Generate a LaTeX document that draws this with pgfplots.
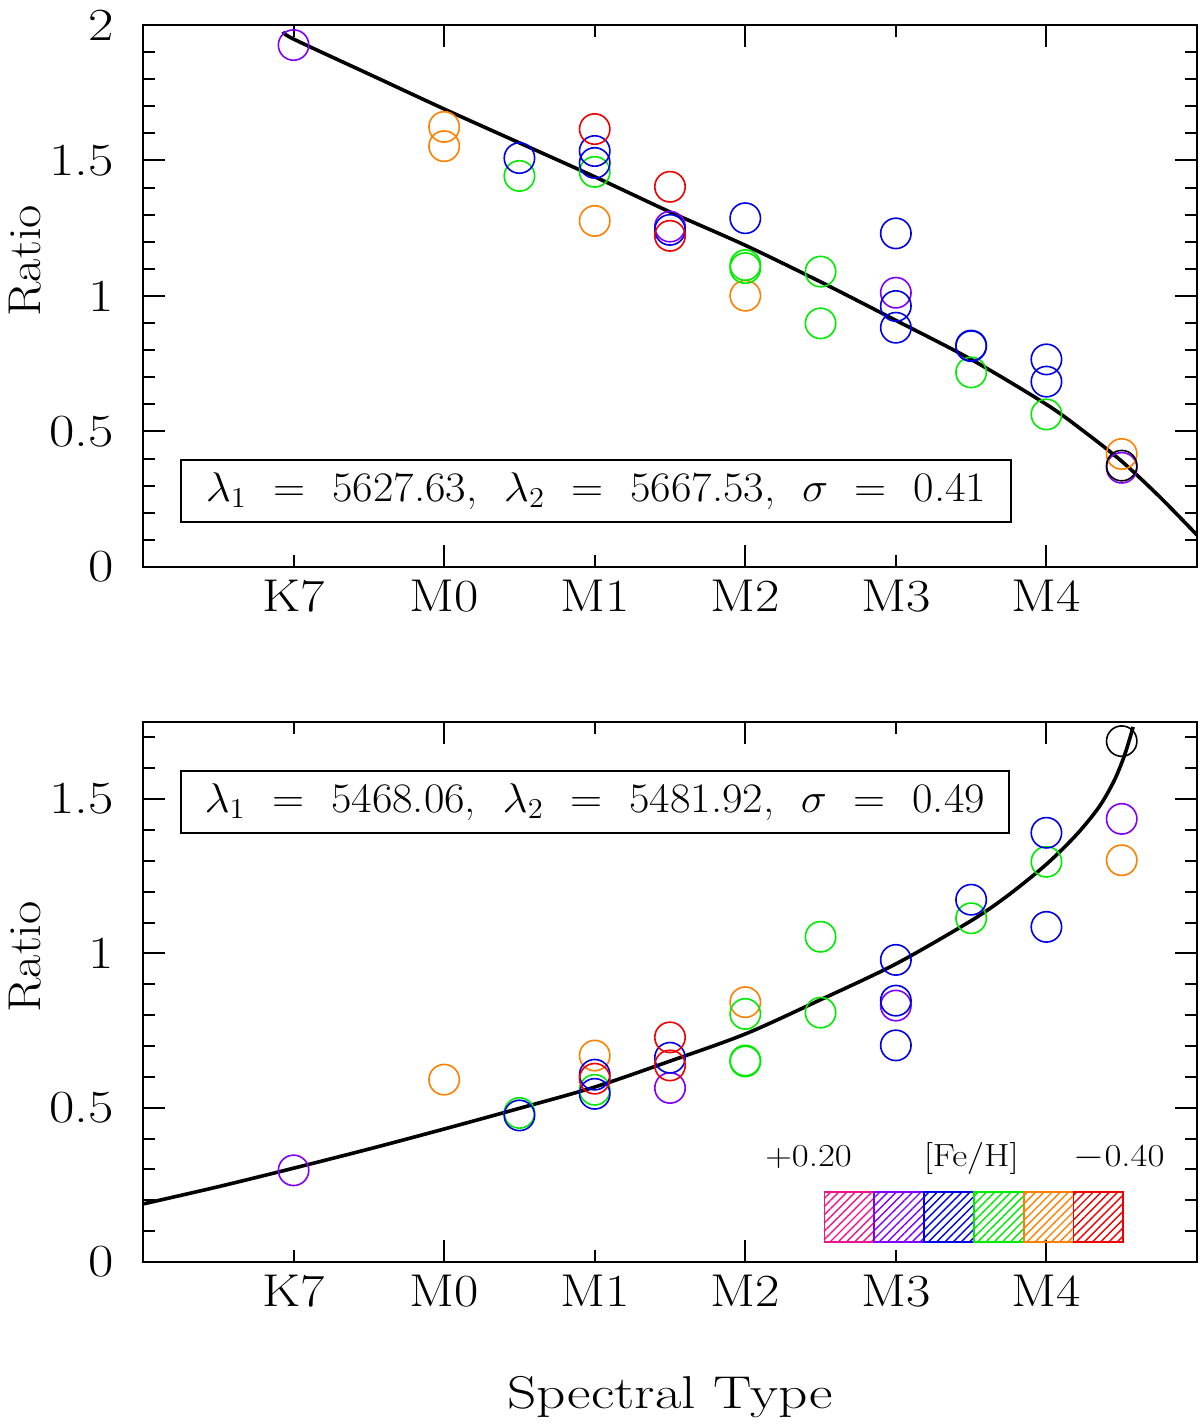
\documentclass[border=0pt]{standalone}
\usepackage{graphicx}
\usepackage{pgfplots}
\pgfplotsset{compat=1.18}
\usetikzlibrary{patterns.meta}
\definecolor{cmag}{RGB}{240,20,140}
\definecolor{cpur}{RGB}{128,0,255}
\definecolor{cblu}{RGB}{0,0,230}
\definecolor{cgrn}{RGB}{0,235,0}
\definecolor{cora}{RGB}{255,128,0}
\definecolor{cred}{RGB}{240,0,0}
\newcommand{\hs}[1]{\scalebox{1.15}[1]{#1}}
\pgfplotsset{myax/.style={
  scale only axis, width=527pt, xmin=-2, xmax=5, ymin=0,
  axis line style={line width=1pt},
  tick style={black, line width=1pt},
  major tick length=11pt, minor tick length=6pt,
  tick align=inside,
  xtick={-2,0,2,4}, minor xtick={-1,1,3,5}, xticklabels={},
  extra x ticks={-1,0,1,2,3,4},
  extra x tick labels={\hs{K7},\hs{M0},\hs{M1},\hs{M2},\hs{M3},\hs{M4}},
  extra x tick style={major tick length=0pt},
  tick label style={font=\fontsize{23}{27}\selectfont},
  /pgf/number format/assume math mode=true,
  yticklabel={\scalebox{1.2}[1]{\pgfmathprintnumber{\tick}}},
  yticklabel style={xshift=-11pt},
  xticklabel style={yshift=-3pt},
  ylabel={\scalebox{1.1}[1]{Ratio}},
  label style={font=\fontsize{23}{27}\selectfont},
  ylabel style={at={(axis description cs:0,0.565)}, anchor=center, yshift=59pt},
  mark size=7.6pt,
}}
\newcommand{\gsp}{\hspace{0.6em}}
\begin{document}
\begin{tikzpicture}
\useasboundingbox (0,0) rectangle (600pt,712pt);
% ---------------- top panel
\begin{axis}[myax, at={(71.5pt,428.5pt)}, anchor=south west,
  height=271pt, ymax=2,
  ytick={0,0.5,1,1.5,2},
  minor ytick={0.1,0.2,0.3,0.4,0.6,0.7,0.8,0.9,1.1,1.2,1.3,1.4,1.6,1.7,1.8,1.9}]
\addplot[only marks, mark=o, color=cpur, line width=0.8pt] coordinates {
(-1,1.926) (1.5,1.256) (3,1.012) (4.5,0.366)};
\addplot[only marks, mark=o, color=cora, line width=0.8pt] coordinates {
(0,1.624) (0,1.553) (1,1.277) (2,1.001) (4.5,0.417)};
\addplot[only marks, mark=o, color=cgrn, line width=0.8pt] coordinates {
(0.5,1.443) (1,1.458) (2,1.114) (2,1.103) (2.5,1.090) (2.5,0.899) (3.5,0.718) (4,0.563)};
\addplot[only marks, mark=o, color=cblu, line width=0.8pt] coordinates {
(0.5,1.509) (1,1.535) (1,1.491) (1.5,1.244) (2,1.287) (3,1.231) (3,0.963) (3,0.883)
(3.5,0.817) (3.5,0.815) (4,0.766) (4,0.684)};
\addplot[only marks, mark=o, color=cred, line width=0.8pt] coordinates {
(1,1.616) (1.5,1.403) (1.5,1.222)};
\addplot[only marks, mark=o, color=black, line width=0.8pt] coordinates {
(4.5,0.374)};
\addplot[smooth, black, line width=1.8pt, no markers] coordinates {
(-1.07,1.975) (-1,1.948) (-0.5,1.819) (0,1.69) (0.5,1.565) (1,1.44) (1.5,1.31)
(2,1.187) (2.5,1.052) (3,0.91) (3.5,0.766) (4,0.60) (4.25,0.50) (4.5,0.39)
(4.75,0.26) (5,0.118)};
\node[draw, line width=1pt, minimum width=415pt, minimum height=31pt, inner sep=0pt,
  font=\fontsize{21}{25}\selectfont] at (axis cs:1.008,0.280)
  {\scalebox{1.06}[1]{$\lambda_1$\gsp=\gsp5627.63,\gsp$\lambda_2$\gsp=\gsp5667.53,\gsp$\sigma$\gsp=\gsp0.41}};
\end{axis}
% ---------------- bottom panel
\begin{axis}[myax, at={(71.5pt,81pt)}, anchor=south west,
  height=270pt, ymax=1.75,
  ytick={0,0.5,1,1.5},
  minor ytick={0.1,0.2,0.3,0.4,0.6,0.7,0.8,0.9,1.1,1.2,1.3,1.4,1.6,1.7},
  xlabel={\scalebox{1.25}[1]{Spectral Type}},
  xlabel style={at={(axis description cs:0.5,0)}, anchor=center, yshift=-67.5pt}]
\addplot[only marks, mark=o, color=cpur, line width=0.8pt] coordinates {
(-1,0.297) (1.5,0.564) (3,0.831) (4.5,1.436)};
\addplot[only marks, mark=o, color=cora, line width=0.8pt] coordinates {
(0,0.591) (1,0.669) (2,0.842) (4.5,1.302)};
\addplot[only marks, mark=o, color=cgrn, line width=0.8pt] coordinates {
(0.5,0.483) (1,0.558) (2,0.804) (2,0.653) (2,0.650) (2.5,1.054) (2.5,0.808) (3.5,1.114) (4,1.297)};
\addplot[only marks, mark=o, color=cblu, line width=0.8pt] coordinates {
(0.5,0.475) (1,0.607) (1,0.545) (1.5,0.662) (3,0.979) (3,0.847) (3,0.702)
(3.5,1.174) (4,1.391) (4,1.086)};
\addplot[only marks, mark=o, color=cred, line width=0.8pt] coordinates {
(1,0.594) (1.5,0.728) (1.5,0.637)};
\addplot[only marks, mark=o, color=black, line width=0.8pt] coordinates {
(4.5,1.688)};
\addplot[smooth, black, line width=1.8pt, no markers] coordinates {
(-2,0.188) (-1.5,0.244) (-1,0.304) (-0.5,0.366) (0,0.431) (0.5,0.498) (1,0.567)
(1.5,0.651) (2,0.739) (2.5,0.850) (3,0.966) (3.5,1.106) (3.75,1.19) (4,1.289)
(4.2,1.385) (4.35,1.475) (4.45,1.56) (4.52,1.644) (4.576,1.734)};
\node[draw, line width=1pt, minimum width=414pt, minimum height=31pt, inner sep=0pt,
  font=\fontsize{21}{25}\selectfont] at (axis cs:1.0,1.490)
  {\scalebox{1.06}[1]{$\lambda_1$\gsp=\gsp5468.06,\gsp$\lambda_2$\gsp=\gsp5481.92,\gsp$\sigma$\gsp=\gsp0.49}};
% legend bar
\foreach \c [count=\i from 0] in {cmag,cpur,cblu,cgrn,cora,cred}{
  \pgfmathsetmacro{\xa}{2.526+0.3307*\i}
  \pgfmathsetmacro{\xb}{2.526+0.3307*(\i+1)}
  \edef\temp{\noexpand\draw[draw=\c, line width=0.9pt,
    pattern={Lines[angle=45,distance=2.9pt,line width=0.7pt]}, pattern color=\c]
    (axis cs:\xa,0.0656) rectangle (axis cs:\xb,0.2273);}
  \temp
}
\node[anchor=base, font=\fontsize{16}{19}\selectfont] at (axis cs:2.421,0.308) {\hs{+0.20}};
\node[anchor=base, font=\fontsize{16}{19}\selectfont] at (axis cs:3.501,0.308) {\hs{[Fe/H]}};
\node[anchor=base, font=\fontsize{16}{19}\selectfont] at (axis cs:4.482,0.308) {\hs{$-$0.40}};
\end{axis}
\end{tikzpicture}
\end{document}
